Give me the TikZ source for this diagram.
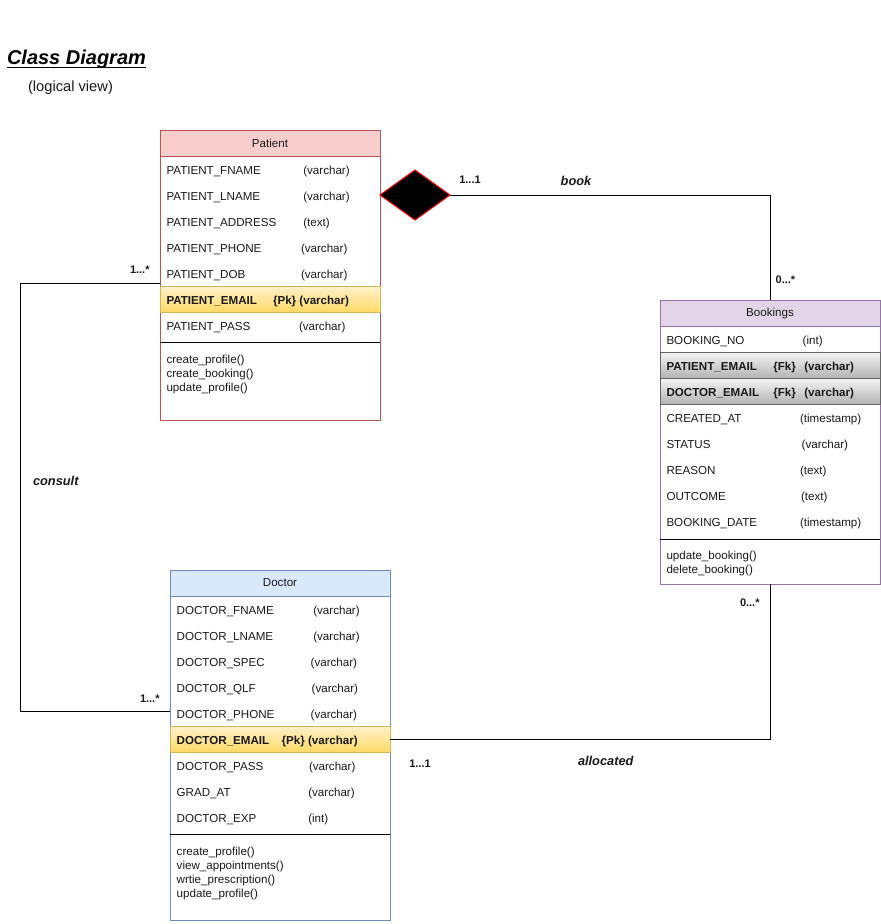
\documentclass[tikz,border=0pt]{standalone}
\usepackage{fontspec}
\setmainfont{Liberation Sans}
\usetikzlibrary{shapes.geometric}

\definecolor{pfill}{HTML}{F8CECC}\definecolor{pline}{HTML}{B85450}
\definecolor{bfill}{HTML}{E1D5E7}\definecolor{bline}{HTML}{9673A6}
\definecolor{dfill}{HTML}{DAE8FC}\definecolor{dline}{HTML}{6C8EBF}
\definecolor{ytop}{HTML}{FFF2CC}\definecolor{ybot}{HTML}{FFD966}\definecolor{yline}{HTML}{D6B656}
\definecolor{gtop}{HTML}{F5F5F5}\definecolor{gbot}{HTML}{B3B3B3}\definecolor{gline}{HTML}{666666}
\definecolor{ink}{HTML}{1A1A1A}

\newcommand\rowfnt{\fontsize{11.6}{14}\selectfont}
\newcommand\mulfnt{\fontsize{11}{13}\selectfont\bfseries}
\newcommand\rolefnt{\fontsize{12.8}{15}\selectfont\bfseries\itshape}
% one attribute line: name, base point, label width, label, type
\newcommand\attr[5]{\node[rowtxt] (#1) at (#2) {\makebox[#3][l]{#4}#5};}

\tikzset{
  classframe/.style={draw=#1, fill=white, line width=1pt, minimum width=220pt, anchor=north west},
  classhead/.style 2 args={draw=#2, fill=#1, line width=1pt, minimum width=220pt,
    minimum height=26pt, anchor=north west, font=\rowfnt, text=ink},
  keyrow/.style={anchor=north west, minimum width=220pt, minimum height=26pt,
    top color=ytop, bottom color=ybot, draw=yline, line width=1pt},
  fkrow/.style={anchor=north west, minimum width=220pt, minimum height=26pt,
    top color=gtop, bottom color=gbot, draw=gline, line width=1pt},
  rowtxt/.style={anchor=base west, font=\rowfnt, text=ink},
  mult/.style={anchor=base west, font=\mulfnt, text=ink},
  role/.style={anchor=base west, font=\rolefnt, text=ink},
  link/.style={draw=black, line width=1pt},
  divider/.style={draw=black, line width=1pt}
}

\begin{document}
\begin{tikzpicture}[x=1pt, y=-1pt, every node/.style={inner sep=0pt, outer sep=0pt}]
\useasboundingbox[fill=white] (0,0) rectangle (881,924);

% heading
\node[anchor=base west, font=\fontsize{20}{24}\selectfont\bfseries\itshape, text=black] (title) at (7,64.5) {Class Diagram};
\draw[line width=1.4pt] ([yshift=-2.8pt]title.base west) -- ([yshift=-2.8pt]title.base east);
\node[anchor=base west, font=\fontsize{14.7}{17}\selectfont, text=ink] (view) at (28,91) {(logical view)};

% ---------------- Patient ----------------
\node[classframe=pline, minimum height=290pt] (patient) at (160,130) {};
\node[classhead={pfill}{pline}] (patienthead) at (160,130) {Patient};
\node[keyrow] (pkey) at (160,286) {};
\attr{pa1}{166.5,174.3}{136.8pt}{PATIENT\_FNAME}{(varchar)}
\attr{pa2}{166.5,200.3}{136.8pt}{PATIENT\_LNAME}{(varchar)}
\attr{pa3}{166.5,226.3}{136.8pt}{PATIENT\_ADDRESS}{(text)}
\attr{pa4}{166.5,252.3}{134.5pt}{PATIENT\_PHONE}{(varchar)}
\attr{pa5}{166.5,278.3}{134.5pt}{PATIENT\_DOB}{(varchar)}
\attr{pa6}{166.5,304.3}{106.5pt}{\bfseries PATIENT\_EMAIL}{\bfseries\{Pk\} (varchar)}
\attr{pa7}{166.5,330.3}{132.5pt}{PATIENT\_PASS}{(varchar)}
\draw[divider] (160,342) -- (380,342);
\node[rowtxt] (pm1) at (166.5,363.5) {create\_profile()};
\node[rowtxt] (pm2) at (166.5,377.5) {create\_booking()};
\node[rowtxt] (pm3) at (166.5,391.5) {update\_profile()};

% ---------------- Bookings ----------------
\node[classframe=bline, minimum height=284pt] (bookings) at (660,300) {};
\node[classhead={bfill}{bline}] (bookingshead) at (660,300) {Bookings};
\node[fkrow] (bfk1) at (660,352) {};
\node[fkrow] (bfk2) at (660,378) {};
\attr{ba1}{666.5,344.3}{136.2pt}{BOOKING\_NO}{(int)}
\attr{ba2}{666.5,370.3}{106.8pt}{\bfseries PATIENT\_EMAIL}{\makebox[31pt][l]{\bfseries\{Fk\}}\bfseries(varchar)}
\attr{ba3}{666.5,396.3}{106.8pt}{\bfseries DOCTOR\_EMAIL}{\makebox[31pt][l]{\bfseries\{Fk\}}\bfseries(varchar)}
\attr{ba4}{666.5,422.3}{133.5pt}{CREATED\_AT}{(timestamp)}
\attr{ba5}{666.5,448.3}{135.2pt}{STATUS}{(varchar)}
\attr{ba6}{666.5,474.3}{133.5pt}{REASON}{(text)}
\attr{ba7}{666.5,500.3}{134.5pt}{OUTCOME}{(text)}
\attr{ba8}{666.5,526.3}{133.5pt}{BOOKING\_DATE}{(timestamp)}
\draw[divider] (660,539) -- (880,539);
\node[rowtxt] (bm1) at (666.5,559.5) {update\_booking()};
\node[rowtxt] (bm2) at (666.5,573.5) {delete\_booking()};

% ---------------- Doctor ----------------
\node[classframe=dline, minimum height=350pt] (doctor) at (170,570) {};
\node[classhead={dfill}{dline}] (doctorhead) at (170,570) {Doctor};
\node[keyrow] (dkey) at (170,726) {};
\attr{da1}{176.7,614.3}{136.6pt}{DOCTOR\_FNAME}{(varchar)}
\attr{da2}{176.7,640.3}{136.6pt}{DOCTOR\_LNAME}{(varchar)}
\attr{da3}{176.7,666.3}{134pt}{DOCTOR\_SPEC}{(varchar)}
\attr{da4}{176.7,692.3}{135pt}{DOCTOR\_QLF}{(varchar)}
\attr{da5}{176.7,718.3}{134pt}{DOCTOR\_PHONE}{(varchar)}
\attr{da6}{176.7,744.3}{105pt}{\bfseries DOCTOR\_EMAIL}{\bfseries\{Pk\} (varchar)}
\attr{da7}{176.7,770.3}{132.3pt}{DOCTOR\_PASS}{(varchar)}
\attr{da8}{176.7,796.3}{131.6pt}{GRAD\_AT}{(varchar)}
\attr{da9}{176.7,822.3}{131.6pt}{DOCTOR\_EXP}{(int)}
\draw[divider] (170,834) -- (390,834);
\node[rowtxt] (dm1) at (176.7,855) {create\_profile()};
\node[rowtxt] (dm2) at (176.7,869) {view\_appointments()};
\node[rowtxt] (dm3) at (176.7,883) {wrtie\_prescription()};
\node[rowtxt] (dm4) at (176.7,897) {update\_profile()};

% ---------------- associations ----------------
% book: composition diamond on Patient
\node[diamond, fill=black, draw=red, line width=1pt, minimum width=70pt, minimum height=50pt] (bookdia) at (415,195) {};
\draw[link] (bookdia.east) -| (bookings.north);
\node[mult] (bookm1) at (459.3,183) {1...1};
\node[role] (bookr) at (560.7,185) {book};
\node[mult] (bookm2) at (775.7,283) {0...*};

% consult: Patient -- Doctor
\coordinate (consultA) at (20,283);
\draw[link] ([yshift=-8pt]patient.west) -- (consultA) |- ([yshift=34pt]doctor.west);
\node[mult] (consm1) at (130,273) {1...*};
\node[role] (consr) at (33,485) {consult};
\node[mult] (consm2) at (140,702) {1...*};

% allocated: Doctor -- Bookings
\draw[link] (dkey.east) -| (bookings.south);
\node[mult] (allocm1) at (409.3,767.5) {1...1};
\node[role] (allocr) at (578,765) {allocated};
\node[mult] (allocm2) at (740,606.5) {0...*};
\end{tikzpicture}
\end{document}
